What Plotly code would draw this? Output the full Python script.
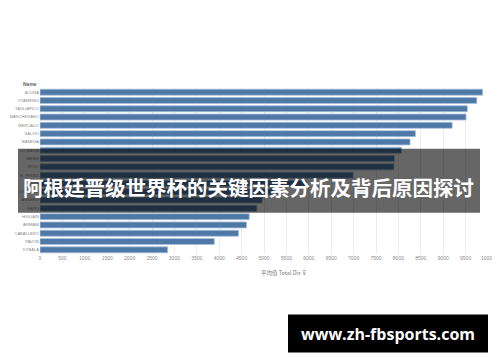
import plotly.graph_objects as go

names = ["ACUNA", "OTAMENDI", "TAGLIAFICO", "MASCHERANO", "MERCADO", "SALVIO",
         "BANEGA", "DI MARIA", "MESSI", "ROJO", "E. PEREZ", "MEZA", "LO CELSO",
         "AGUERO", "FAZIO", "HIGUAIN", "ARMANI", "CABALLERO", "PAVON", "DYBALA"]
total_dis = [9880, 9750, 9540, 9510, 9200, 8380, 8260, 8070, 7910, 7900,
             6990, 5950, 5300, 4960, 4840, 4670, 4610, 4430, 3890, 2850]
x_ticks = list(range(0, 10001, 500))
title_text = "阿根廷晋级世界杯的关键因素分析及背后原因探讨"
site_text = "www.zh-fbsports.com"
axis_title = "平均值 Total Dis"

# page body has an 8px default margin; screen coords -> figure coords
OFF = 8
W, H = 500 - OFF, 362 - OFF
L, R = 40 - OFF, 488 - OFF
T, B = 87.5 - OFF, 254.2 - OFF


def px(x):
    return (x - OFF - L) / (R - L)


def py(y):
    return (B - (y - OFF)) / (B - T)


fig = go.Figure(go.Bar(
    x=total_dis, y=names, orientation="h",
    marker=dict(color="#4e79a7", line=dict(color="#a8c0dc", width=0.8)),
    width=0.72,
))

fig.update_layout(
    width=W, height=H,
    margin=dict(l=L, r=W - R, t=T, b=H - B, pad=0, autoexpand=False),
    paper_bgcolor="white", plot_bgcolor="white",
    showlegend=False,
    xaxis=dict(range=[0, 10000], tickvals=x_ticks, ticktext=[str(v) for v in x_ticks],
               showgrid=True, gridcolor="#ececec", gridwidth=1, zeroline=False,
               tickfont=dict(size=5, color="#8a8a8a", family="Liberation Sans"),
               ticks="", showline=False, automargin=False),
    yaxis=dict(categoryorder="array", categoryarray=names, autorange="reversed",
               tickfont=dict(size=4.1, color="#8a8a8a", family="Liberation Sans"),
               showgrid=False, ticks="", showline=False, automargin=False),
    shapes=[
        dict(type="rect", xref="paper", yref="paper",
             x0=px(18), x1=px(480), y0=py(212.7), y1=py(148.5),
             fillcolor="rgba(0,0,0,0.6)", line=dict(width=0), layer="above"),
        dict(type="rect", xref="paper", yref="paper",
             x0=px(288), x1=px(488), y0=py(353), y1=py(315),
             fillcolor="black", line=dict(width=0), layer="above"),
    ],
    annotations=[
        dict(text="<b>" + title_text + "</b>", xref="paper", yref="paper",
             x=px(248), y=py(186.5), showarrow=False, xanchor="center", yanchor="middle",
             font=dict(size=20.5, color="white", family="Noto Sans CJK SC")),
        dict(text="<b>" + site_text + "</b>", xref="paper", yref="paper",
             x=px(388), y=py(335), showarrow=False, xanchor="center", yanchor="middle",
             font=dict(size=16, color="white", family="Open Sans")),
        dict(text=axis_title + " ⊽", xref="paper", yref="paper",
             x=px(283), y=py(273.5), showarrow=False, xanchor="center", yanchor="middle",
             font=dict(size=5.5, color="#777777", family="Noto Sans CJK SC")),
        dict(text="<b>Name</b>", xref="paper", yref="paper",
             x=px(30), y=py(83), showarrow=False, xanchor="center", yanchor="middle",
             font=dict(size=5, color="#666666", family="Liberation Sans")),
    ],
)

fig.write_html("out.html")
